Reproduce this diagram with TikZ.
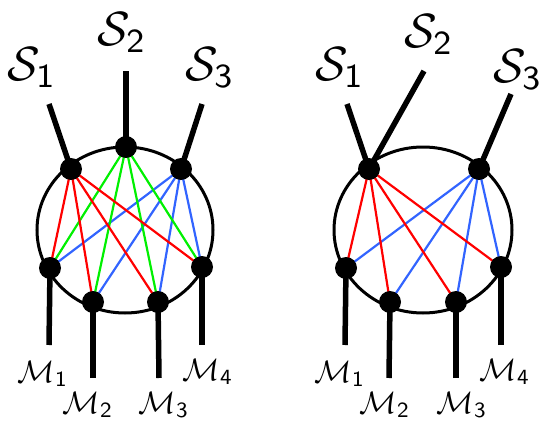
\documentclass[tikz,border=0pt]{standalone}
\usepackage{graphicx}
\usetikzlibrary{backgrounds}
\newcommand{\bigS}[1]{\scalebox{4.8}{$\mathcal{S}_{\mathsf{#1}}$}}
\newcommand{\smallM}[1]{\scalebox{3.1}{$\mathcal{M}_{\mathsf{#1}}$}}
\begin{document}
\begin{tikzpicture}[x=1pt,y=-1pt,
  dot/.style={circle,fill=black,inner sep=0pt,minimum size=22pt},
  leg/.style={line width=5.5pt},
  ring/.style={line width=3pt},
  wire/.style={line width=2.2pt},
  bigl/.style={inner sep=0pt},
  smalll/.style={inner sep=0pt}]
\definecolor{wred}{RGB}{255,0,0}
\definecolor{wgreen}{RGB}{0,240,0}
\definecolor{wblue}{RGB}{50,100,255}
\useasboundingbox (0,0) rectangle (544,423);
% ---------- left diagram ----------
\node[dot] (a1) at (71,169) {};
\node[dot] (a2) at (126,147) {};
\node[dot] (a3) at (181,169) {};
\node[dot] (b1) at (50,268) {};
\node[dot] (b2) at (93,302) {};
\node[dot] (b3) at (158,302) {};
\node[dot] (b4) at (202,267) {};
\coordinate (la1) at (49,104);
\coordinate (la2) at (126,71);
\coordinate (la3) at (202,104);
\coordinate (lb1) at (49,345);
\coordinate (lb2) at (93,378);
\coordinate (lb3) at (159,378);
\coordinate (lb4) at (202,345);
\node[bigl] (ts1) at (32,68) {\bigS{1}};
\node[bigl] (ts2) at (122,33) {\bigS{2}};
\node[bigl] (ts3) at (210,68) {\bigS{3}};
\node[smalll] (tm1) at (43,374) {\smallM{1}};
\node[smalll] (tm2) at (88,405) {\smallM{2}};
\node[smalll] (tm3) at (164,405) {\smallM{3}};
\node[smalll] (tm4) at (208,372) {\smallM{4}};
% ---------- right diagram ----------
\node[dot] (c1) at (369,169) {};
\node[dot] (c3) at (479,169) {};
\node[dot] (d1) at (346,268) {};
\node[dot] (d2) at (390,302) {};
\node[dot] (d3) at (456,302) {};
\node[dot] (d4) at (501,267) {};
\coordinate (lc1) at (347,104);
\coordinate (lc2) at (424,71);
\coordinate (lc3) at (511,94);
\coordinate (ld1) at (345,345);
\coordinate (ld2) at (389,378);
\coordinate (ld3) at (456,378);
\coordinate (ld4) at (501,345);
\node[bigl] (us1) at (340,68) {\bigS{1}};
\node[bigl] (us2) at (429,35) {\bigS{2}};
\node[bigl] (us3) at (518,70) {\bigS{3}};
\node[smalll] (um1) at (340,374) {\smallM{1}};
\node[smalll] (um2) at (385,405) {\smallM{2}};
\node[smalll] (um3) at (462,405) {\smallM{3}};
\node[smalll] (um4) at (505,372) {\smallM{4}};
\begin{scope}[on background layer]
  \draw[ring] (125,230) ellipse [x radius=88, y radius=83];
  \draw[ring] (423,230) ellipse [x radius=89, y radius=83];
  \foreach \m in {b1,b2,b3,b4}{
    \draw[wire,wred] (a1.center) -- (\m.center);
    \draw[wire,wgreen] (a2.center) -- (\m.center);
    \draw[wire,wblue] (a3.center) -- (\m.center);
  }
  \foreach \m in {d1,d2,d3,d4}{
    \draw[wire,wred] (c1.center) -- (\m.center);
    \draw[wire,wblue] (c3.center) -- (\m.center);
  }
  \draw[leg] (la1) -- (a1.center);
  \draw[leg] (la2) -- (a2.center);
  \draw[leg] (la3) -- (a3.center);
  \draw[leg] (lb1) -- (b1.center);
  \draw[leg] (lb2) -- (b2.center);
  \draw[leg] (lb3) -- (b3.center);
  \draw[leg] (lb4) -- (b4.center);
  \draw[leg] (lc1) -- (c1.center);
  \draw[leg] (lc2) -- (c1.center);
  \draw[leg] (lc3) -- (c3.center);
  \draw[leg] (ld1) -- (d1.center);
  \draw[leg] (ld2) -- (d2.center);
  \draw[leg] (ld3) -- (d3.center);
  \draw[leg] (ld4) -- (d4.center);
\end{scope}
\end{tikzpicture}
\end{document}
